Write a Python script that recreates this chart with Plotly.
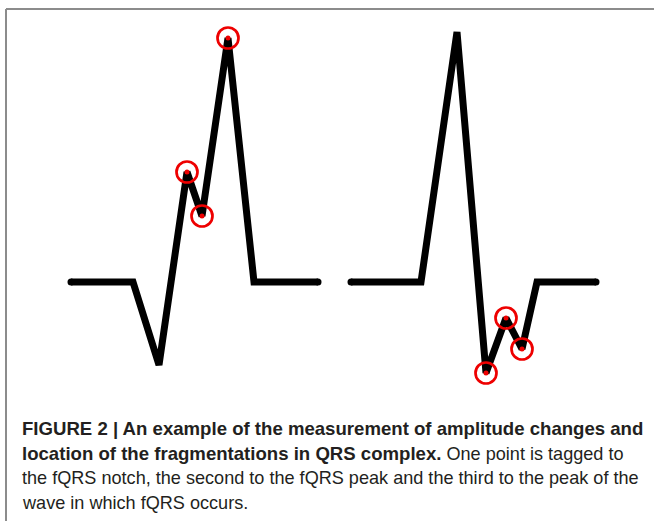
import plotly.graph_objects as go

# Left complex (fQRS on upstroke of R wave)
left_time = [71, 133, 159, 187, 202, 228, 254, 318]
left_amp = [0, 0, -83, 110, 66, 244, 0, 0]
left_tagged = [3, 4, 5]

# Right complex (fQRS in the S wave)
right_time = [351, 421, 457, 486, 506, 522, 537, 596]
right_amp = [0, 0, 250, -91, -36, -67, 0, 0]
right_tagged = [3, 4, 5]

B = '<span style="font-size:18.6px"><b>'
E = '</b></span>'
caption_lines = [
    B + "FIGURE 2 | An example of the measurement of amplitude changes and" + E,
    B + "location of the fragmentations in QRS complex." + E + " One point is tagged to",
    "the fQRS notch, the second to the fQRS peak and the third to the peak of the",
    "wave in which fQRS occurs.",
]

W, H = 654, 521
BASE_Y = 282  # pixel row of baseline

fig = go.Figure()

for t, a, tags in [(left_time, left_amp, left_tagged), (right_time, right_amp, right_tagged)]:
    fig.add_trace(go.Scatter(x=t, y=a, mode="lines",
                             line=dict(color="black", width=7),
                             hoverinfo="skip", showlegend=False))
    # rounded caps at the ends
    fig.add_trace(go.Scatter(x=[t[0], t[-1]], y=[a[0], a[-1]], mode="markers",
                             marker=dict(color="black", size=7, line=dict(width=0)),
                             hoverinfo="skip", showlegend=False))
    tx = [t[i] for i in tags]
    ty = [a[i] for i in tags]
    fig.add_trace(go.Scatter(x=tx, y=ty, mode="markers",
                             marker=dict(symbol="circle-open", color="#ee0000", size=21,
                                         line=dict(width=2.7, color="#ee0000")),
                             hoverinfo="skip", showlegend=False))
    fig.add_trace(go.Scatter(x=tx, y=ty, mode="markers",
                             marker=dict(symbol="circle", color="#ee0000", size=5, line=dict(width=0)),
                             hoverinfo="skip", showlegend=False))

# border (top and left of the figure box)
fig.add_shape(type="line", xref="paper", yref="paper",
              x0=6 / W, x1=1.0, y0=1 - 9 / H, y1=1 - 9 / H,
              line=dict(color="#8c8c8c", width=2))
fig.add_shape(type="line", xref="paper", yref="paper",
              x0=6 / W, x1=6 / W, y0=1 - 9 / H, y1=0,
              line=dict(color="#8c8c8c", width=2))

line_y = [428, 453, 478, 503]
for txt, yy in zip(caption_lines, line_y):
    fig.add_annotation(text=txt, xref="paper", yref="paper",
                       x=20 / W, y=1 - yy / H, xanchor="left", yanchor="middle",
                       showarrow=False, align="left",
                       font=dict(family="Liberation Sans, Arial, sans-serif", size=18.1, color="#231f20"))

fig.update_layout(
    width=W, height=H,
    margin=dict(l=0, r=0, t=0, b=0),
    paper_bgcolor="white", plot_bgcolor="white",
    xaxis=dict(range=[0, W], visible=False, fixedrange=True),
    yaxis=dict(range=[BASE_Y - H, BASE_Y], visible=False, fixedrange=True),
    showlegend=False,
)

fig.write_html("out.html", config={"displayModeBar": False},
               post_script="document.body.style.margin='0';document.body.style.overflow='hidden';")
